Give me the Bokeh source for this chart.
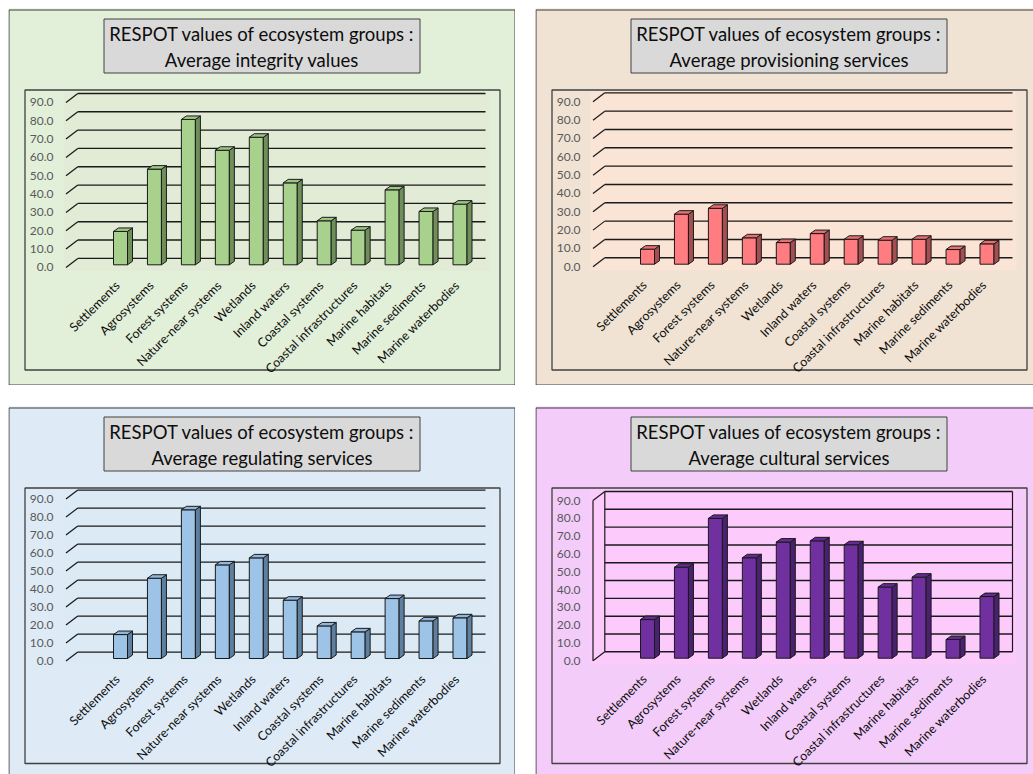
import numpy as np
from bokeh.plotting import figure
from bokeh.layouts import row, column
from bokeh.models import Range1d, Spacer
from bokeh.core.properties import value
from bokeh.embed import file_html
from bokeh.resources import INLINE

# ---------------- data ----------------
CATEGORIES = ["Settlements", "Agrosystems", "Forest systems", "Nature-near systems",
              "Wetlands", "Inland waters", "Coastal systems", "Coastal infrastructures",
              "Marine habitats", "Marine sediments", "Marine waterbodies"]
INTEGRITY = [18.2, 52.2, 79.3, 62.5, 69.6, 44.7, 24.0, 18.9, 40.9, 29.1, 33.1]
PROVISIONING = [8.2, 27.3, 30.5, 14.4, 11.8, 16.7, 13.6, 13.1, 13.6, 8.0, 11.1]
REGULATING = [13.3, 44.6, 82.6, 52.0, 55.9, 32.4, 18.1, 14.8, 33.3, 20.9, 22.6]
CULTURAL = [21.7, 51.1, 78.5, 56.4, 65.2, 65.9, 63.7, 39.9, 45.5, 10.5, 34.6]
TICKS = [0, 10, 20, 30, 40, 50, 60, 70, 80, 90]
TICK_LABELS = ["0.0", "10.0", "20.0", "30.0", "40.0", "50.0", "60.0", "70.0", "80.0", "90.0"]
TITLE_MAIN = "RESPOT values of ecosystem groups :"
SUBTITLES = ["Average integrity values", "Average provisioning services",
             "Average regulating services", "Average cultural services"]

FONT = "Lato"
EDGE = "#1A1A1A"


def make_panel(values, subtitle, panel_bg, inner_bg, front, side, top,
               W, H, bb, s, box_bottom, boxed=False, oy=1):
    cat0, cx = 112.0, 33.95

    def X(px):
        return (px - cat0) / cx

    def Y(py):
        return (bb - py) / s

    p = figure(width=W, height=H, x_range=Range1d(X(0), X(W)),
               y_range=Range1d(Y(H - oy), Y(-oy)),
               x_axis_type=None, y_axis_type=None, toolbar_location=None,
               output_backend="svg", min_border=0)
    p.outline_line_color = None
    p.background_fill_color = panel_bg
    p.border_fill_color = panel_bg

    # panel border
    p.quad(left=[X(0.5)], right=[X(506.5)], top=[Y(0.5)], bottom=[Y(375.5)],
           fill_color=None, line_color="#3F3F3F", line_width=1)
    # chart area box
    p.quad(left=[X(16.5)], right=[X(491.5)], top=[Y(80.5)], bottom=[Y(box_bottom)],
           fill_color=None, line_color="#404040", line_width=1.3)
    # inner plot area
    p.quad(left=[X(55)], right=[X(481)], top=[Y(82)], bottom=[Y(bb + 6)],
           fill_color=inner_bg, line_color=None)
    # title box
    p.quad(left=[X(95.5)], right=[X(411.5)], top=[Y(9.5)], bottom=[Y(63.5)],
           fill_color="#D9D9D9", line_color="#404040", line_width=1)
    p.text(x=[X(253.5), X(253.5)], y=[Y(24), Y(50)], text=[TITLE_MAIN, subtitle],
           text_align="center", text_baseline="middle", text_font=value(FONT),
           text_font_size="18.5px", text_color="#0D0D0D")

    ticks = np.array(TICKS, dtype=float)
    back_y = ticks + 6.4 / s
    front_y = ticks - 2.6 / s
    xb0, xb1, xf = X(69.3), X(477), X(57.5)

    p.segment(x0=[xb0] * len(ticks), y0=back_y, x1=[xb1] * len(ticks), y1=back_y,
              line_color=EDGE, line_width=1.4)
    if boxed:
        p.segment(x0=[xf, xf], y0=[front_y[0], front_y[-1]], x1=[xb0, xb0],
                  y1=[back_y[0], back_y[-1]], line_color=EDGE, line_width=1.2)
        p.segment(x0=[xf, xb0, xb1], y0=[front_y[0], back_y[0], back_y[0]],
                  x1=[xf, xb0, xb1], y1=[front_y[-1], back_y[-1], back_y[-1]],
                  line_color=EDGE, line_width=1.2)
    else:
        p.segment(x0=[xf] * len(ticks), y0=front_y, x1=[xb0] * len(ticks), y1=back_y,
                  line_color=EDGE, line_width=1.2)

    p.text(x=[X(45)] * len(ticks), y=front_y, text=TICK_LABELS, text_align="right",
           text_baseline="middle", text_font=value(FONT), text_font_size="12px",
           text_color="#595959")

    # 3D bars
    idx = np.arange(len(values), dtype=float)
    v = np.array(values, dtype=float)
    hw, ddx, ddy = 7 / cx, 5 / cx, 3.5 / s
    p.quad(left=idx - hw, right=idx + hw, bottom=np.zeros_like(v), top=v,
           fill_color=front, line_color=EDGE, line_width=1)
    side_xs = [[i + hw, i + hw + ddx, i + hw + ddx, i + hw] for i in idx]
    side_ys = [[0, ddy, val + ddy, val] for val in v]
    p.patches(side_xs, side_ys, fill_color=side, line_color=EDGE, line_width=1)
    top_xs = [[i - hw, i + hw, i + hw + ddx, i - hw + ddx] for i in idx]
    top_ys = [[val, val, val + ddy, val + ddy] for val in v]
    p.patches(top_xs, top_ys, fill_color=top, line_color=EDGE, line_width=1)

    # category labels
    p.text(x=idx - 3 / cx, y=[Y(bb + 18.5)] * len(idx), text=CATEGORIES, angle=np.pi / 4,
           text_align="right", text_baseline="middle", text_font=value(FONT),
           text_font_size="12.5px", text_color="#0D0D0D")
    return p


p1 = make_panel(INTEGRITY, SUBTITLES[0], "#E2F0D9", "#E1EBD6",
                "#A9D18E", "#6F8F5A", "#9DC583", 507, 377, 255.3, 1.833, 360.5)
p2 = make_panel(PROVISIONING, SUBTITLES[1], "#F0E3D4", "#FAE4D5",
                "#FF7C80", "#A54E51", "#E96E72", 498, 377, 254.7, 1.833, 360.5)
p3 = make_panel(REGULATING, SUBTITLES[2], "#DEEBF7", "#DCEAF6",
                "#9DC3E6", "#5E7F9E", "#8FB6DB", 507, 368, 251.0, 1.80, 356.0)
p4 = make_panel(CULTURAL, SUBTITLES[3], "#F3CCFA", "#FCCBFC",
                "#7030A0", "#4A2070", "#652B92", 498, 368, 250.7, 1.781, 356.0, boxed=True)

top_row = row(Spacer(width=8, height=377), p1, Spacer(width=20, height=377), p2)
bottom_row = row(Spacer(width=8, height=368), p3, Spacer(width=20, height=368), p4)
layout = column(Spacer(width=1033, height=8), top_row, Spacer(width=1033, height=21), bottom_row)

open("out.html", "w").write(file_html(layout, INLINE))
